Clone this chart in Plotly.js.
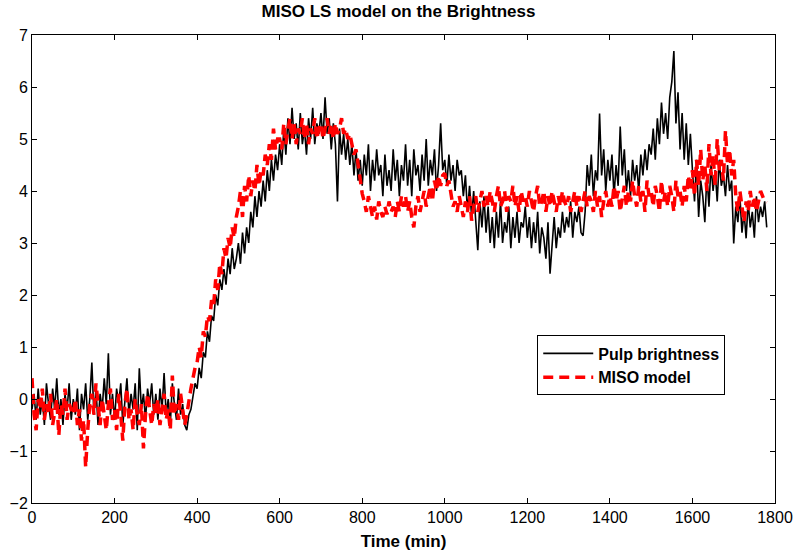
<!DOCTYPE html>
<html>
<head>
<meta charset="utf-8">
<script src="https://cdn.plot.ly/plotly-3.0.1.min.js"></script>
<style>html,body{margin:0;padding:0;background:#fff;}#chart{width:797px;height:555px;}</style>
</head>
<body>
<div id="chart"></div>
<script>
// Sampling: one value every 5 minutes, starting at t = 0
var startTime = 0;
var timeStep = 5;

// Pulp brightness (black)
var pulpBrightness = [
-0.2, 0.1, -0.4, 0.2, -0.3, 0.0, -0.5, 0.3, -0.1, -0.4, 0.2, -0.2, 0.4, -0.3, 0.0, -0.5, 0.1, -0.2, 0.3, -0.4,
0.0, -0.3, 0.2, -0.6, 0.1, -0.2, 0.3, -0.4, 0.0, 0.7, -0.3, 0.2, -0.5, 0.1, -0.2, 0.4, -0.1, 0.88, -0.3, 0.1,
-0.4, 0.2, -0.1, 0.3, -0.5, 0.0, 0.4, -0.3, 0.1, -0.2, 0.3, -0.6, 0.59, -0.2, 0.1, -0.4, 0.2, -0.1, 0.3, -0.3,
0.1, -0.4, 0.2, -0.2, 0.5, -0.3, 0.0, -0.5, 0.3, -0.1, -0.4, 0.2, -0.3, -0.1, -0.5, -0.6, -0.3, -0.2, 0.1, 0.3,
0.2, 0.6, 0.4, 0.9, 0.8, 1.3, 1.1, 1.6, 1.5, 2.0, 1.8, 2.3, 2.1, 2.5, 2.2, 2.7, 2.4, 2.9, 2.5, 2.7,
3.0, 2.6, 3.2, 2.8, 3.3, 3.0, 3.6, 3.3, 3.9, 3.5, 4.0, 3.7, 4.2, 3.8, 4.4, 4.0, 4.6, 4.2, 4.7, 4.4,
4.9, 4.5, 5.2, 4.7, 5.4, 4.9, 5.6, 5.0, 5.3, 4.8, 5.5, 4.9, 5.2, 4.7, 5.4, 5.0, 5.6, 4.9, 5.3, 5.1,
5.5, 5.0, 5.8, 5.1, 5.4, 4.8, 5.3, 4.9, 3.8, 5.2, 4.7, 5.1, 4.6, 5.0, 4.5, 4.9, 4.3, 4.8, 4.2, 4.6,
4.1, 4.7, 4.3, 4.9, 4.0, 4.6, 4.2, 4.8, 4.3, 4.5, 3.9, 4.7, 4.1, 4.4, 4.0, 4.8, 4.2, 4.6, 3.9, 4.5,
4.2, 4.9, 4.1, 4.6, 3.9, 4.8, 4.3, 4.5, 4.0, 4.7, 4.2, 5.0, 4.1, 4.6, 4.3, 4.8, 4.0, 4.5, 5.3, 4.4,
4.6, 4.1, 4.7, 4.2, 4.5, 4.0, 4.6, 4.3, 4.4, 3.9, 4.3, 3.6, 4.1, 3.5, 4.0, 3.4, 2.86, 3.8, 3.3, 3.9,
3.2, 3.7, 3.0, 3.5, 2.9, 3.6, 3.1, 3.8, 3.0, 3.4, 3.2, 3.7, 2.9, 3.5, 3.1, 3.6, 3.0, 3.4, 3.3, 3.7,
3.1, 3.5, 2.9, 3.4, 3.0, 3.6, 2.8, 3.3, 3.1, 2.7, 3.4, 2.41, 3.0, 3.5, 2.9, 3.3, 3.1, 3.6, 3.2, 3.5,
3.3, 3.8, 3.1, 3.6, 3.4, 3.7, 3.2, 3.14, 3.6, 4.5, 4.1, 4.7, 3.9, 4.4, 4.2, 5.49, 4.3, 4.8, 4.0, 4.6,
4.2, 4.7, 3.9, 4.5, 4.1, 5.24, 4.3, 4.8, 4.0, 4.4, 3.9, 4.6, 4.2, 4.5, 4.0, 4.7, 4.3, 4.8, 4.4, 4.9,
4.7, 5.2, 4.6, 5.4, 4.9, 5.7, 5.1, 5.5, 5.0, 5.8, 6.1, 6.69, 5.3, 5.9, 4.8, 5.5, 4.6, 5.3, 4.5, 5.1,
4.4, 3.8, 4.6, 3.5, 4.2, 3.9, 3.4, 4.3, 3.7, 4.5, 4.0, 4.4, 3.8, 4.6, 4.1, 4.3, 3.9, 4.5, 4.0, 4.2,
2.99, 3.7, 3.4, 3.9, 3.2, 3.6, 3.09, 3.8, 3.3, 3.6, 3.1, 3.9, 3.4, 3.7, 3.5, 3.8, 3.3
];

// MISO model (red dashed)
var misoModel = [
0.4, -0.3, -0.6, 0.0, -0.2, 0.2, -0.4, -0.1, -0.3, 0.1, -0.5, -0.2, 0.0, -0.7, -0.1, -0.3, 0.2, -0.4, -0.1, -0.2,
-0.3, 0.0, -0.5, -0.2, -0.8, -0.4, -1.31, -0.6, -0.1, 0.1, -0.3, 0.3, -0.2, -0.5, 0.0, -0.3, -0.6, -0.1, 0.2, -0.4,
-0.2, -0.6, 0.1, -0.3, -0.8, -0.1, 0.2, -0.4, -0.2, -0.6, 0.0, -0.3, -0.5, -0.1, -0.95, -0.3, 0.1, -0.2, -0.5, -0.1,
-0.3, 0.0, -0.5, -0.2, 0.1, -0.4, -0.2, -0.6, 0.45, -0.3, -0.1, -0.4, 0.1, -0.2, -0.5, -0.3, 0.0, 0.2, 0.4, 0.6,
0.7, 1.0, 0.8, 1.3, 1.2, 1.6, 1.5, 1.9, 1.8, 2.3, 2.1, 2.6, 2.4, 2.9, 2.7, 3.1, 2.9, 3.3, 3.1, 3.5,
3.7, 4.0, 3.5, 4.1, 3.8, 4.3, 3.9, 4.2, 4.0, 4.5, 4.1, 4.4, 4.3, 4.7, 4.5, 4.9, 4.6, 5.2, 4.8, 5.0,
5.0, 4.8, 5.3, 4.9, 5.2, 5.4, 5.0, 5.3, 4.9, 5.2, 5.1, 5.4, 5.0, 5.3, 4.9, 5.2, 5.1, 5.4, 5.0, 5.2,
5.3, 5.0, 5.2, 5.4, 5.1, 5.3, 5.0, 5.3, 5.1, 5.2, 5.4, 5.1, 5.2, 5.0, 5.1, 4.9, 4.7, 4.8, 4.5, 4.3,
3.95, 3.8, 3.6, 3.9, 3.68, 3.5, 3.7, 3.45, 3.8, 3.6, 3.5, 3.7, 3.55, 3.8, 3.6, 3.7, 3.5, 3.8, 3.6, 3.9,
3.7, 3.9, 3.6, 3.8, 3.5, 3.3, 3.7, 3.9, 3.6, 3.8, 4.0, 3.7, 3.9, 4.1, 3.8, 4.2, 4.0, 4.3, 4.1, 4.3,
4.34, 4.1, 4.2, 3.9, 3.7, 3.8, 3.6, 3.9, 3.7, 3.5, 3.8, 3.6, 3.9, 3.43, 3.7, 3.9, 3.6, 3.8, 4.0, 3.7,
3.9, 3.7, 4.0, 3.8, 3.6, 3.9, 4.1, 3.7, 3.8, 4.0, 3.6, 3.9, 3.8, 4.1, 3.7, 3.9, 3.6, 4.0, 3.8, 3.9,
3.7, 4.0, 3.8, 3.6, 3.9, 4.1, 3.7, 3.8, 4.0, 3.6, 3.9, 3.7, 4.0, 3.8, 3.6, 3.9, 3.7, 4.0, 3.8, 3.7,
3.9, 3.6, 3.8, 4.0, 3.7, 3.9, 3.6, 3.8, 4.0, 3.7, 3.9, 3.8, 3.6, 4.0, 3.7, 3.9, 3.5, 3.8, 4.0, 3.7,
3.9, 3.7, 4.1, 3.8, 4.0, 3.6, 3.9, 4.1, 3.7, 4.0, 3.8, 4.2, 3.9, 3.7, 4.1, 3.8, 4.0, 3.6, 4.2, 3.9,
4.0, 3.7, 4.1, 3.9, 3.6, 4.2, 3.8, 4.0, 3.7, 4.1, 3.9, 3.6, 4.2, 3.9, 4.0, 3.7, 4.1, 3.8, 4.3, 4.0,
4.4, 3.9, 4.6, 4.1, 4.8, 4.2, 4.5, 4.0, 4.9, 4.3, 4.7, 4.1, 5.0, 4.4, 4.6, 4.2, 5.16, 4.5, 4.8, 4.3,
4.6, 3.9, 3.6, 4.0, 3.7, 3.4, 3.8, 3.6, 4.0, 3.7, 3.9, 3.6, 3.8, 4.0, 3.9, 3.8, 3.78
];

var xTickValues = [0, 200, 400, 600, 800, 1000, 1200, 1400, 1600, 1800];
var yTickValues = [-2, -1, 0, 1, 2, 3, 4, 5, 6, 7];
var seriesNames = ["Pulp brightness", "MISO model"];
var chartTitle = "MISO LS model on the Brightness";
var xTitle = "Time (min)";

function timesFor(arr) {
  var t = [];
  for (var i = 0; i < arr.length; i++) t.push(startTime + i * timeStep);
  return t;
}

var traces = [
  {
    x: timesFor(pulpBrightness), y: pulpBrightness, name: seriesNames[0],
    type: "scatter", mode: "lines",
    line: {color: "#000000", width: 1.6}
  },
  {
    x: timesFor(misoModel), y: misoModel, name: seriesNames[1],
    type: "scatter", mode: "lines",
    line: {color: "#ff0000", width: 3.5, dash: "10px,6px"}
  }
];

var font = "Liberation Sans, Arial, Helvetica, sans-serif";
var layout = {
  width: 797, height: 555,
  paper_bgcolor: "#ffffff", plot_bgcolor: "#ffffff",
  margin: {l: 32, r: 22, t: 34.5, b: 52.3},
  font: {family: font, size: 16, color: "#000"},
  showlegend: true,
  title: {text: "<b>" + chartTitle + "</b>", font: {family: font, size: 17, color: "#000"}, x: 0.5, xanchor: "center", y: 0.98, yanchor: "middle"},
  xaxis: {
    range: [0, 1800], tickvals: xTickValues, ticks: "inside", ticklen: 5, tickwidth: 1, tickcolor: "#000",
    showline: true, linecolor: "#000", linewidth: 1, mirror: "allticks", showgrid: false, zeroline: false,
    tickfont: {family: font, size: 16, color: "#000"},
    title: {text: "<b>" + xTitle + "</b>", font: {family: font, size: 17, color: "#000"}, standoff: 9}
  },
  yaxis: {
    range: [-2, 7], tickvals: yTickValues, ticks: "inside", ticklen: 5, tickwidth: 1, tickcolor: "#000",
    showline: true, linecolor: "#000", linewidth: 1, mirror: "allticks", showgrid: false, zeroline: false,
    tickfont: {family: font, size: 16, color: "#000"}
  },
  legend: {
    x: 0.68, xanchor: "left", y: 0.358, yanchor: "top",
    bgcolor: "#ffffff", bordercolor: "#000", borderwidth: 1, itemwidth: 50,
    font: {family: font, size: 16, color: "#000", weight: "bold"}
  }
};

Plotly.newPlot("chart", traces, layout, {displayModeBar: false, staticPlot: true});
</script>
</body>
</html>
